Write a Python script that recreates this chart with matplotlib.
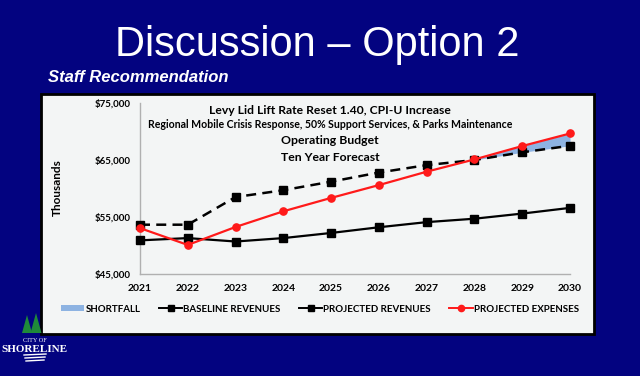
import matplotlib
matplotlib.use("Agg")
import matplotlib.pyplot as plt
from matplotlib.patches import Rectangle, Polygon
from matplotlib.lines import Line2D
from matplotlib.patches import Patch

years = [2021, 2022, 2023, 2024, 2025, 2026, 2027, 2028, 2029, 2030]
baseline_revenues = [50900, 51300, 50700, 51300, 52200, 53200, 54100, 54700, 55600, 56600]
projected_revenues = [53650, 53650, 58500, 59700, 61200, 62800, 64100, 65000, 66350, 67500]
projected_expenses = [53050, 50100, 53250, 56000, 58350, 60600, 62950, 65100, 67450, 69650]
yticks = [45000, 55000, 65000, 75000]

NAVY = "#030380"
CHART_FONT = ["Lato", "DejaVu Sans"]

fig = plt.figure(figsize=(6.4, 3.76), dpi=100)
fig.patch.set_facecolor(NAVY)

W, H = 640, 376
def fx(x): return x / W
def fy(y): return 1 - y / H

# chart box
box = Rectangle((fx(41), fy(334)), fx(594) - fx(41), fy(94) - fy(334),
                transform=fig.transFigure, facecolor="#f3f5f5", edgecolor="black",
                linewidth=2, zorder=-5)
fig.patches.append(box)

# slide titles
fig.text(fx(317), fy(45), "Discussion \u2013 Option 2", color="white",
         fontsize=30, family="Liberation Sans", ha="center", va="center")
fig.text(fx(48), fy(77), "Staff Recommendation", color="white", fontsize=12,
         family="Liberation Sans", weight="bold", style="italic", ha="left", va="center")

ax = fig.add_axes([fx(140), fy(274), fx(570) - fx(140), fy(103) - fy(274)])
ax.set_facecolor("none")
ax.set_zorder(2)

x = years
ax.fill_between(x, projected_revenues, projected_expenses,
                where=[e >= r for e, r in zip(projected_expenses, projected_revenues)],
                interpolate=True, color="#8db3e2", linewidth=0, zorder=1)
ax.plot(x, baseline_revenues, color="black", lw=1.6, marker="s", ms=5.5, zorder=3, clip_on=False)
ax.plot(x, projected_revenues, color="black", lw=1.8, ls=(0, (4, 2.5)), marker="s", ms=5.5,
        zorder=3, clip_on=False)
ax.plot(x, projected_expenses, color="#ff1a1a", lw=1.6, marker="o", ms=5.2, zorder=4, clip_on=False)

ax.set_xlim(2021, 2030)
ax.set_ylim(45000, 75000)
ax.set_yticks(yticks)
ax.set_yticklabels([f"${v:,}" for v in yticks], family=CHART_FONT, fontsize=7, weight="bold")
ax.set_xticks(years)
ax.set_xticklabels([str(y) for y in years], family=CHART_FONT, fontsize=7.5, weight="bold")
ax.tick_params(axis="y", length=0, pad=7)
ax.tick_params(axis="x", length=0, pad=7)
for s in ["top", "right"]:
    ax.spines[s].set_visible(False)
for s in ["left", "bottom"]:
    ax.spines[s].set_color("#b0b0b0")
    ax.spines[s].set_linewidth(1)

fig.text(fx(57), fy(188), "Thousands", rotation=90, family=CHART_FONT, fontsize=8.5,
         weight="bold", ha="center", va="center")

# chart title lines
fig.text(fx(330), fy(110), "Levy Lid Lift Rate Reset 1.40, CPI-U Increase",
         family=CHART_FONT, fontsize=8.7, weight="bold", ha="center", va="center")
fig.text(fx(330), fy(125), "Regional Mobile Crisis Response, 50% Support Services, & Parks Maintenance",
         family=CHART_FONT, fontsize=7.6, weight="bold", ha="center", va="center")
fig.text(fx(330), fy(141), "Operating Budget",
         family=CHART_FONT, fontsize=8.8, weight="bold", ha="center", va="center")
fig.text(fx(330), fy(157), "Ten Year Forecast",
         family=CHART_FONT, fontsize=8.8, weight="bold", ha="center", va="center")

# legend
handles = [
    Patch(facecolor="#8db3e2", edgecolor="none"),
    Line2D([], [], color="black", lw=1.4, marker="s", ms=4.5),
    Line2D([], [], color="black", lw=1.4, marker="s", ms=4.5),
    Line2D([], [], color="#ff1a1a", lw=1.4, marker="o", ms=4.5),
]
labels = ["SHORTFALL", "BASELINE REVENUES", "PROJECTED REVENUES", "PROJECTED EXPENSES"]
leg = fig.legend(handles, labels, loc="center", bbox_to_anchor=(fx(320), fy(309)),
                 ncol=4, frameon=False, prop={"family": CHART_FONT, "size": 7, "weight": "bold"},
                 handlelength=2.4, handletextpad=0.1, columnspacing=1.9, handleheight=0.6)

# logo
for (cx, base, h, w) in [(27, 333, 18, 10), (36, 333, 20, 11)]:
    tri = Polygon([(fx(cx - w / 2), fy(base)), (fx(cx + w / 2), fy(base)), (fx(cx), fy(base - h))],
                  closed=True, transform=fig.transFigure, facecolor="#1f8a3a", edgecolor="none")
    fig.patches.append(tri)
fig.text(fx(35), fy(340), "CITY OF", color="white", fontsize=4.5, family="Liberation Serif",
         ha="center", va="center")
fig.text(fx(35), fy(349), "SHORELINE", color="white", fontsize=8, family="Liberation Serif",
         weight="bold", ha="center", va="center")
for i, yy in enumerate([355, 358, 361]):
    fig.add_artist(Line2D([fx(24 + i), fx(46 - i)], [fy(yy), fy(yy - 1)], color="white", lw=1))

fig.savefig("out.png", dpi=100, facecolor=fig.get_facecolor())
